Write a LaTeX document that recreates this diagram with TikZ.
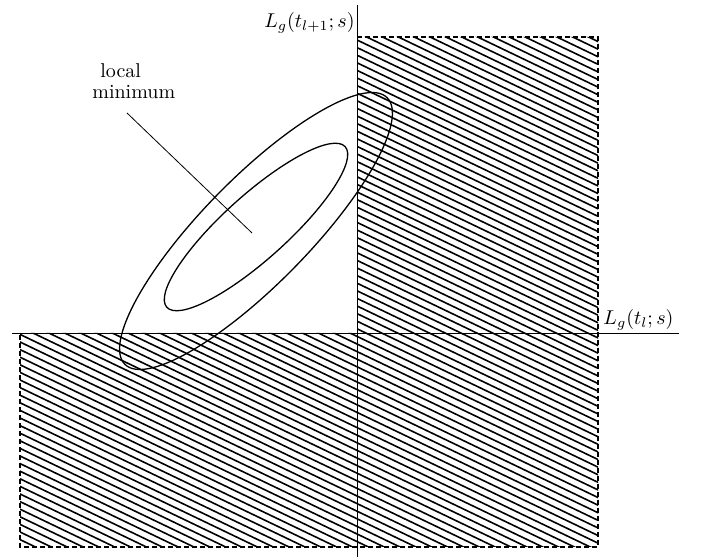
\documentclass[tikz,border=0pt]{standalone}
\begin{document}
\begin{tikzpicture}[x=0.5pt,y=-0.5pt,
  hatch/.style={line width=0.8pt},
  border/.style={line width=0.6pt,dash pattern=on 2.5pt off 1.5pt},
  axis/.style={line width=0.4pt},
  curve/.style={line width=0.65pt},
  leader/.style={line width=0.4pt},
  lbl/.style={inner sep=0pt,font=\normalsize}]
\useasboundingbox (0,0) rectangle (707,560);
% hatching
\begin{scope}
  \clip (357,37) rectangle (598,333) (20,333) rectangle (598,547);
  \foreach \c in {-420,-412.4,...,560}
    \draw[hatch] (0,\c) -- (707,\c+339);
\end{scope}
% dashed borders
\draw[border] (357,37) -- (598,37) -- (598,547) -- (20,547) -- (20,333);
% axes
\coordinate (xl) at (12,333);
\coordinate (xr) at (679,333);
\coordinate (yt) at (357,5);
\coordinate (yb) at (357,557);
\draw[axis] (xl) -- (xr);
\draw[axis] (yt) -- (yb);
% ellipses
\draw[curve, rotate around={45.5:(256,231)}] (256,231) ellipse [x radius=187, y radius=53];
\draw[curve, rotate around={42:(256,227)}] (256,227) ellipse [x radius=120, y radius=32];
% labels
\node[lbl, anchor=base east] (ylab) at (355,28) {$L_g(t_{l+1};s)$};
\node[lbl, anchor=base west] (xlab) at (603,325) {$L_g(t_l;s)$};
\node[lbl, anchor=base west] (loc) at (100,78) {local};
\node[lbl, anchor=base west] (mini) at (92,99) {minimum};
\coordinate (lm1) at (127,113);
\coordinate (lm2) at (252,233);
\draw[leader] (lm1) -- (lm2);
\end{tikzpicture}
\end{document}
